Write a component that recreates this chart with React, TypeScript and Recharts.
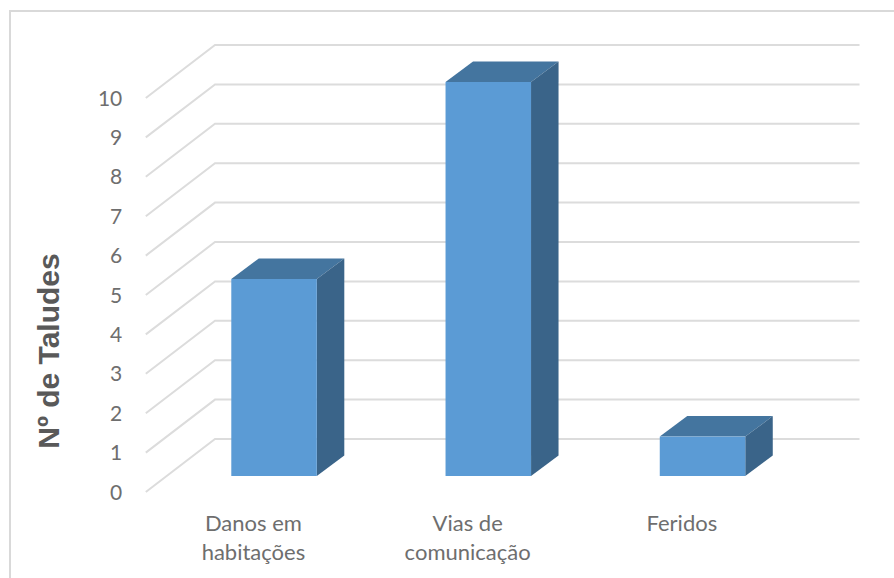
import { BarChart, Bar, XAxis, YAxis, CartesianGrid } from "recharts";

const categories = ["Danos em habitações", "Vias de comunicação", "Feridos"];
const categoryLines = [["Danos em", "habitações"], ["Vias de", "comunicação"], ["Feridos"]];
const values = [5, 10, 1];
const yTicks = [0, 1, 2, 3, 4, 5, 6, 7, 8, 9, 10];
const yTitle = "Nº de Taludes";

const chartData = categories.map((name, i) => ({ name, value: values[i] }));

const FONT = "Lato, sans-serif";
const TEXT = "#6e6e6e";
const GRID = "#dcdcdc";

// 3D look: depth of the bars and of the floor/wall
const BAR_DX = 27.5;
const BAR_DY = 20.5;

function GridLine(props: any) {
    const { x1, x2, y1 } = props;
    const backY = y1 - 37;
    const points = `${x1 - 21.5},${y1 + 16} ${x1 + 47.7},${backY} ${x2 + 49.5},${backY}`;
    return <polyline key={props.key ?? y1} points={points} fill="none" stroke={GRID} strokeWidth={2} />;
}

function Box3D(props: any) {
    const { x, y, width, height } = props;
    const r = x + width;
    const b = y + height;
    return (
        <g>
            <polygon points={`${x},${y} ${x + BAR_DX},${y - BAR_DY} ${r + BAR_DX},${y - BAR_DY} ${r},${y}`} fill="#44759f" />
            <polygon points={`${r},${y} ${r + BAR_DX},${y - BAR_DY} ${r + BAR_DX},${b - BAR_DY} ${r},${b}`} fill="#3a6489" />
            <rect x={x} y={y} width={width} height={height} fill="#5b9bd5" />
        </g>
    );
}

function YTick({ x, y, payload }: any) {
    return (
        <text x={x - 39} y={y + 15} textAnchor="end" dominantBaseline="central" fontFamily={FONT} fontSize={21} fill={TEXT}>
            {payload.value}
        </text>
    );
}

function XTick({ x, y, index }: any) {
    return (
        <text textAnchor="middle" fontFamily={FONT} fontSize={22} fill={TEXT}>
            {categoryLines[index].map((line, i) => (
                <tspan key={line} x={x - 21} y={y + 47 + i * 29}>{line}</tspan>
            ))}
        </text>
    );
}

function YTitle({ viewBox }: any) {
    const cx = 48;
    const cy = viewBox.y + viewBox.height / 2 + 72;
    return (
        <text x={cx} y={cy} transform={`rotate(-90 ${cx} ${cy})`} textAnchor="middle" dominantBaseline="central"
            fontFamily="Liberation Sans, Arial, sans-serif" fontWeight="bold" fontSize={30} fill="#595959">
            {yTitle}
        </text>
    );
}

export default function App() {
    return (
        <div style={{ position: "absolute", left: 0, top: 0, width: 894, height: 578, background: "#fff", overflow: "hidden" }}>
            <div style={{ position: "absolute", left: 9, top: 10, width: 885, height: 568, borderLeft: "2px solid #d9d9d9", borderTop: "2px solid #d9d9d9" }} />
            <div style={{ position: "absolute", left: 0, top: 0 }}>
                <BarChart width={894} height={578} data={chartData} barSize={85.5}
                    margin={{ top: 82, right: 84, bottom: 0, left: 0 }}>
                    <CartesianGrid vertical={false} horizontal={GridLine} />
                    <XAxis dataKey="name" height={102} interval={0} axisLine={false} tickLine={false} tick={<XTick />} />
                    <YAxis width={167.3} domain={[0, 10]} ticks={yTicks} interval={0} axisLine={false} tickLine={false}
                        tickMargin={0} tick={<YTick />} label={{ content: <YTitle /> }} />
                    <Bar dataKey="value" shape={<Box3D />} isAnimationActive={false} />
                </BarChart>
            </div>
        </div>
    );
}
